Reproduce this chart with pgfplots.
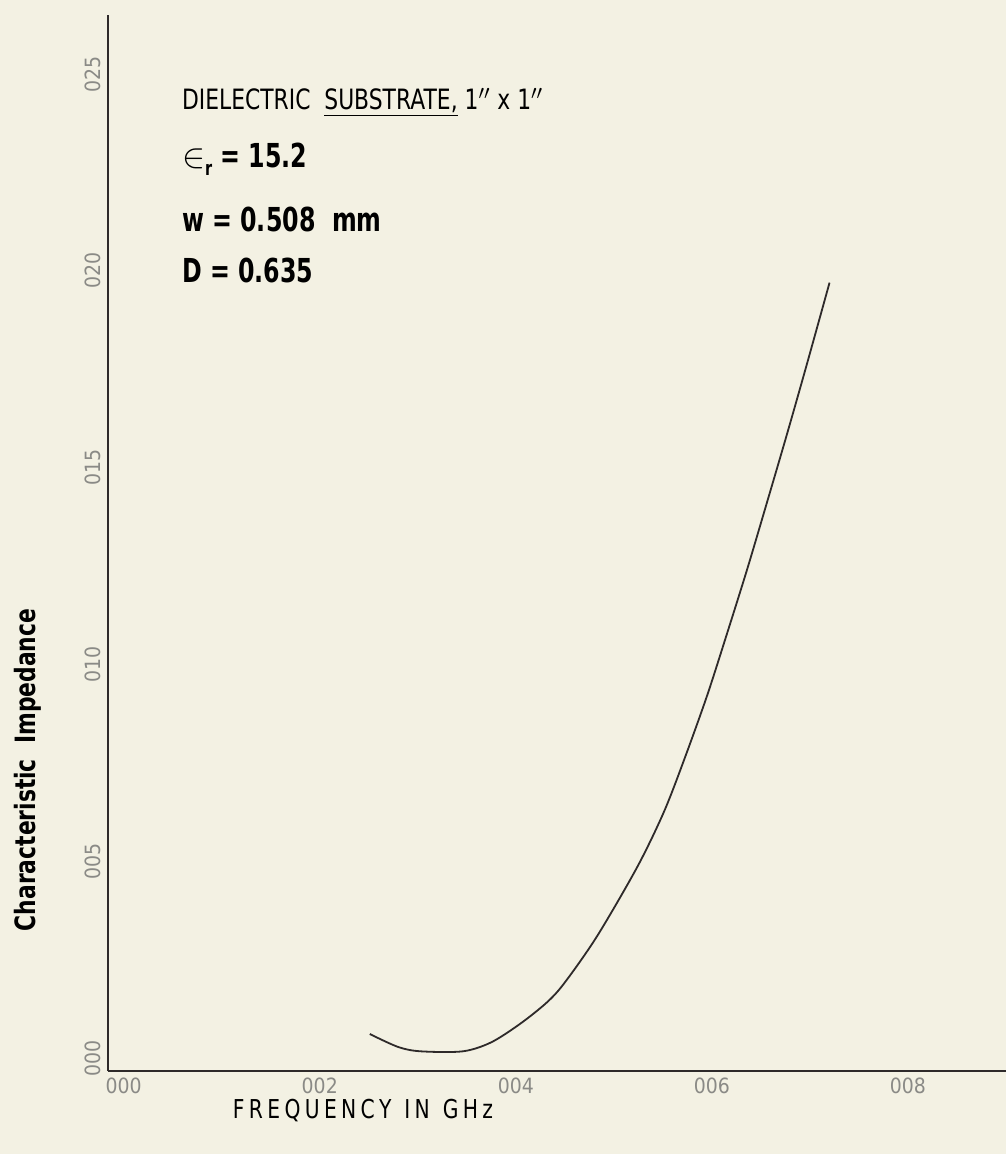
\documentclass[border=0pt]{standalone}
\usepackage{pgfplots}
\pgfplotsset{compat=1.18}
\usepackage{fontspec}
\setmainfont{DejaVu Sans}
\newfontfamily\cond[FakeStretch=0.78]{DejaVu Sans}
\newfontfamily\condb[FakeStretch=0.72]{DejaVu Sans Bold}
\newfontfamily\tlfont[FakeStretch=0.9]{DejaVu Sans}
\definecolor{bgcream}{HTML}{F3F1E3}
\definecolor{ink}{HTML}{2E2A2A}
\definecolor{tickgray}{HTML}{8A8A86}
\begin{document}
\begin{tikzpicture}
\useasboundingbox (-54pt,-41.5pt) rectangle (449pt,535.5pt);
\fill[bgcream] (-54pt,-41.5pt) rectangle (449pt,535.5pt);
\begin{axis}[
  at={(0pt,0pt)}, anchor=south west,
  scale only axis, width=449pt, height=528pt,
  xmin=-0.16, xmax=9.0, ymin=-0.53, ymax=26.3,
  axis x line=bottom, axis y line=left,
  x axis line style={-, line width=1.4pt, ink},
  y axis line style={-, line width=0.9pt, ink},
  major tick length=0pt,
  xtick={0,2,4,6,8}, xticklabels={000,002,004,006,008},
  ytick={0,5,10,15,20,25}, yticklabels={000,005,010,015,020,025},
  xticklabel style={font=\tlfont\fontsize{10.5}{11}\selectfont, text=tickgray, anchor=north},
  yticklabel style={font=\tlfont\fontsize{10.5}{11}\selectfont, text=tickgray, rotate=90, anchor=south, xshift=-4pt},
  clip=false,
]
\addplot[ink, line width=0.9pt, smooth] coordinates {
(2.51,0.41) (2.80,0.08) (3.03,-0.03) (3.46,-0.03) (3.75,0.20) (4.05,0.68)
(4.32,1.22) (4.50,1.72) (4.83,2.90) (5.24,4.66) (5.51,6.05) (5.72,7.40)
(5.95,9.00) (6.15,10.55) (6.36,12.22) (6.56,13.90) (6.76,15.60) (6.96,17.35) (7.20,19.50)
};
\node[font=\cond\bfseries\fontsize{14}{16}\selectfont, rotate=90, anchor=center] at (axis description cs:-0.089,0.285) {Characteristic\ \ Impedance};
\node[font=\cond\fontsize{13}{14}\selectfont, anchor=center] at (axis description cs:0.284,-0.037) {F\,R\,E\,Q\,U\,E\,N\,C\,Y\ \ I\,N\ \ G\,H\,z};
\node[font=\cond\fontsize{14}{16}\selectfont, anchor=west, inner sep=0pt] at (axis description cs:0.082,0.917) {DIELECTRIC\ \ \underline{SUBSTRATE,} 1$''$ x 1$''$};
\node[font=\condb\fontsize{16.5}{18}\selectfont, anchor=west, inner sep=0pt] at (axis description cs:0.082,0.863) {$\in$\raisebox{-0.45ex}{\fontsize{10}{11}\selectfont r} = 15.2};
\node[font=\condb\fontsize{16.5}{18}\selectfont, anchor=west, inner sep=0pt] at (axis description cs:0.082,0.806) {w = 0.508\ \ mm};
\node[font=\condb\fontsize{16.5}{18}\selectfont, anchor=west, inner sep=0pt] at (axis description cs:0.082,0.758) {D = 0.635};
\end{axis}
\end{tikzpicture}
\end{document}
